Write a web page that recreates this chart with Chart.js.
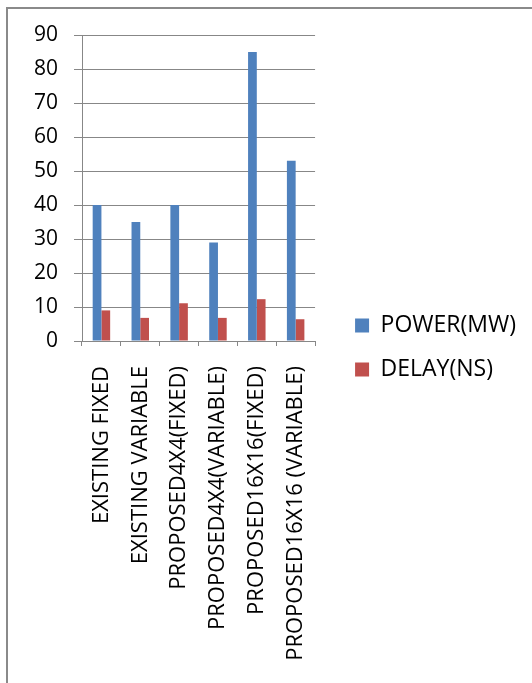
<!DOCTYPE html>
<html>
<head>
<meta charset="utf-8">
<script src="https://cdn.jsdelivr.net/npm/chart.js@4/dist/chart.umd.min.js"></script>
<style>
  html, body { margin: 0; padding: 0; background: #fff; }
  #wrap { position: relative; width: 532px; height: 683px; overflow: hidden; }
  #borda {
    position: absolute; left: 6px; top: 7px; right: -10px; bottom: -10px;
    border-left: 2px solid #8a8a8a; border-top: 2px solid #8a8a8a;
  }
  #grafico { position: absolute; left: 0; top: 0; }
</style>
</head>
<body>
<div id="wrap">
  <div id="borda"></div>
  <canvas id="grafico" width="532" height="683"></canvas>
</div>
<script>
const categorias = [
  "EXISTING FIXED",
  "EXISTING VARIABLE",
  "PROPOSED4X4(FIXED)",
  "PROPOSED4X4(VARIABLE)",
  "PROPOSED16X16(FIXED)",
  "PROPOSED16X16 (VARIABLE)",
];
const potencia = [40, 35, 40, 29, 85, 53];
const atraso = [9, 6.8, 11.1, 6.8, 12.3, 6.4];
const nomesSeries = ["POWER(MW)", "DELAY(NS)"];
const ticksY = { min: 0, max: 90, passo: 10 };

const fonte = "'Open Sans', 'DejaVu Sans', sans-serif";
const cinza = "#878787";

// o layout limita a largura da legenda lateral (metade / n caixas),
// aqui deixo ela usar a largura que precisar
const legendaLarga = {
  id: "legendaLarga",
  beforeLayout(chart) {
    const lg = chart.legend;
    if (lg && !lg._larga) {
      const fitOriginal = lg.fit.bind(lg);
      lg.fit = function () {
        this.maxWidth = 260;
        fitOriginal();
      };
      lg._larga = true;
    }
  },
};

const ctx = document.getElementById("grafico").getContext("2d");

new Chart(ctx, {
  type: "bar",
  data: {
    labels: categorias,
    datasets: [
      {
        label: nomesSeries[0],
        data: potencia,
        backgroundColor: "#4f81bd",
        borderWidth: 0,
      },
      {
        label: nomesSeries[1],
        data: atraso,
        backgroundColor: "#c0504d",
        borderWidth: 0,
      },
    ],
  },
  plugins: [legendaLarga],
  options: {
    responsive: false,
    animation: false,
    layout: { padding: { top: 35, right: 6, bottom: 23, left: 0 } },
    datasets: {
      bar: { categoryPercentage: 0.45, barPercentage: 1 },
    },
    scales: {
      x: {
        grid: {
          offset: true,
          drawOnChartArea: false,
          drawTicks: true,
          tickLength: 5,
          color: cinza,
        },
        border: { color: cinza, width: 1 },
        ticks: {
          minRotation: 90,
          maxRotation: 90,
          autoSkip: false,
          padding: 20,
          color: "#000",
          font: { family: fonte, size: 22 },
        },
        afterFit: (s) => {
          s.height = 319;
        },
      },
      y: {
        min: ticksY.min,
        max: ticksY.max,
        grid: { color: cinza, tickLength: 8 },
        border: { color: cinza, width: 1 },
        ticks: {
          stepSize: ticksY.passo,
          padding: 16,
          color: "#000",
          font: { family: fonte, size: 21 },
        },
        afterFit: (s) => {
          s.width = 82;
        },
      },
      // eixo vazio so pra abrir espaco entre o grafico e a legenda
      espaco: {
        type: "linear",
        position: "right",
        grid: { display: false },
        border: { display: false },
        ticks: { display: false },
        afterFit: (s) => {
          s.width = 19;
        },
      },
    },
    plugins: {
      legend: {
        display: true,
        position: "right",
        labels: {
          boxWidth: 14,
          boxHeight: 14,
          padding: 21,
          color: "#000",
          font: { family: fonte, size: 23 },
        },
      },
      title: { display: false },
      tooltip: { enabled: false },
    },
  },
});
</script>
</body>
</html>
